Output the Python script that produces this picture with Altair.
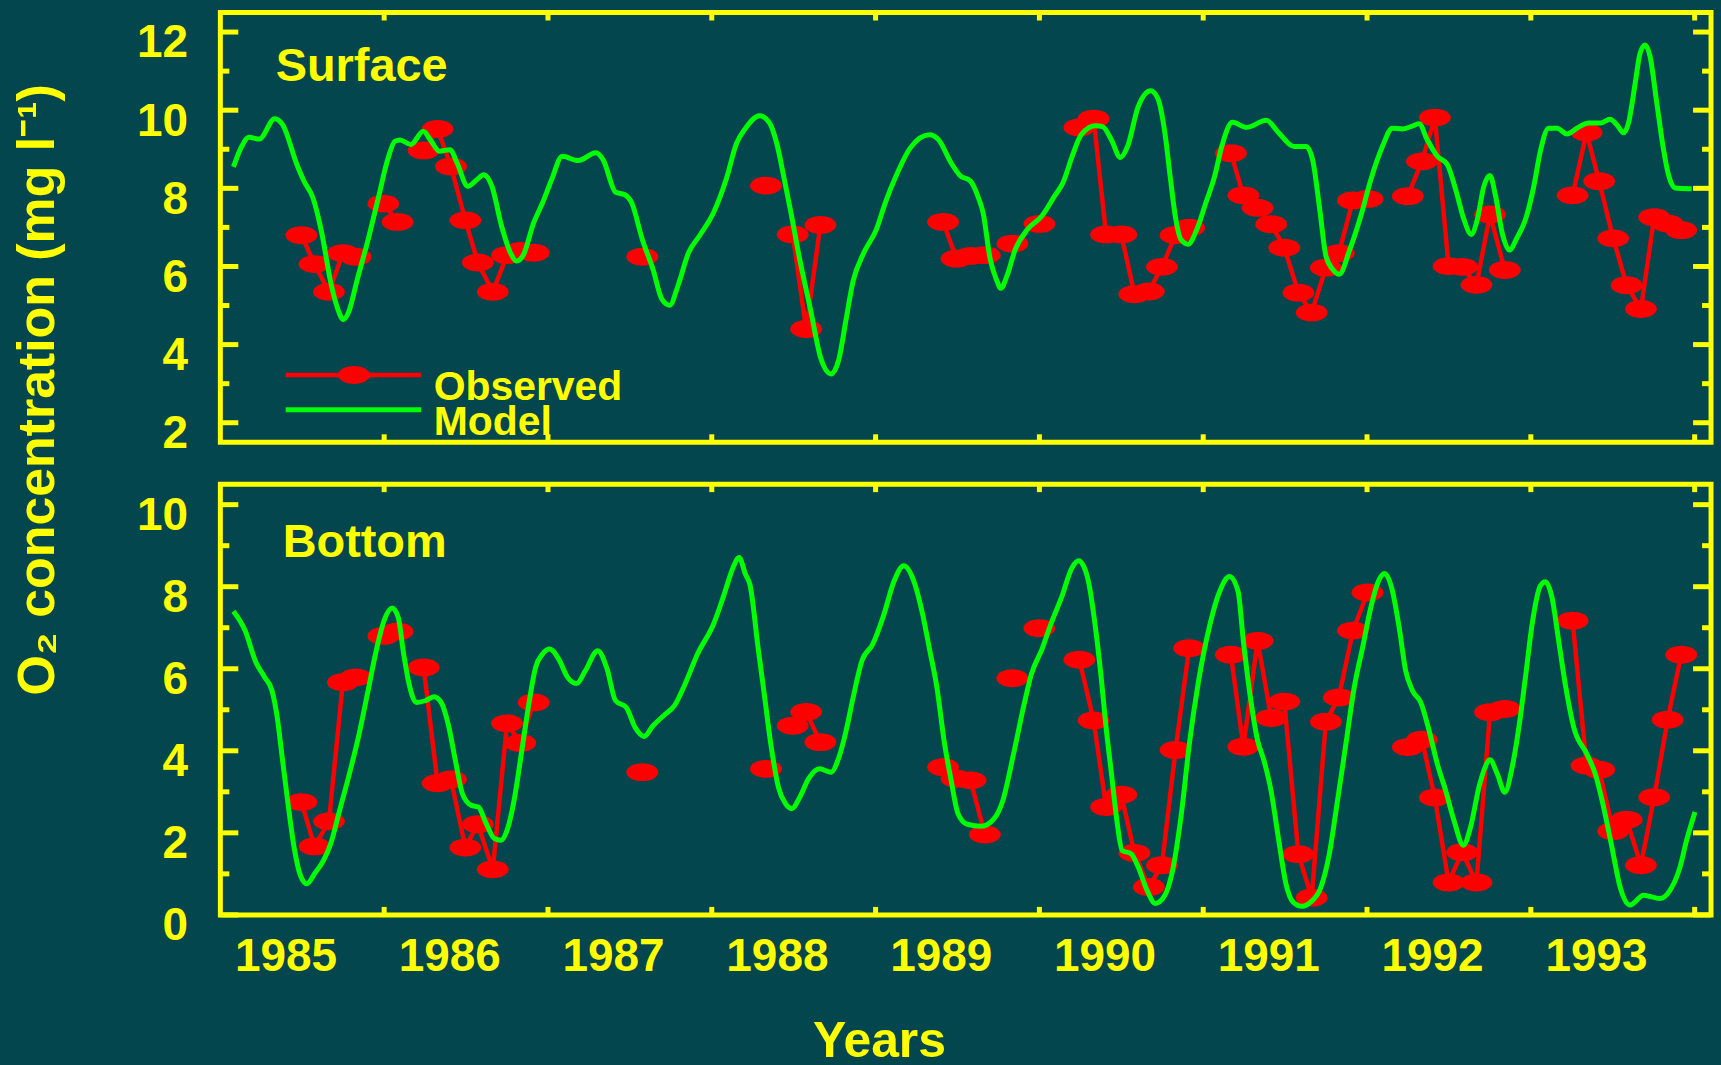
import altair as alt
import pandas as pd

YELLOW = "#ffff00"
RED = "#ff0000"
GREEN = "#00ff00"
BG = "#03464e"
FONT = "Liberation Sans"

X_DOMAIN = [1985.0, 1994.1]
YEAR_TICKS = [1986, 1987, 1988, 1989, 1990, 1991, 1992, 1993, 1994]

SURF_DOMAIN = [1.5, 12.5]
SURF_MAJOR = [2, 4, 6, 8, 10, 12]
SURF_MINOR = [3, 5, 7, 9, 11]
BOT_DOMAIN = [0, 10.5]
BOT_MAJOR = [0, 2, 4, 6, 8, 10]
BOT_MINOR = [1, 3, 5, 7, 9]

# Observed sampling dates (None = gap in the record)
obs_time = [1985.495, 1985.575, 1985.663, 1985.748, 1985.826, None,
            1985.995, 1986.082, None,
            1986.241, 1986.326, 1986.408, 1986.496, 1986.572, 1986.663, 1986.750, 1986.831, 1986.913, None,
            1987.576, None,
            1988.331, None,
            1988.494, 1988.576, 1988.663, None,
            1989.412, 1989.494, 1989.580, 1989.667, None,
            1989.835, None,
            1990.000, None,
            1990.244, 1990.331, 1990.407, 1990.500, 1990.580, 1990.668, 1990.748, 1990.831, 1990.914, None,
            1991.169, 1991.245, 1991.332, 1991.415, 1991.495, 1991.581, 1991.662, 1991.749, 1991.828, 1991.914, 1992.003, None,
            1992.249, 1992.335, 1992.414, 1992.498, 1992.581, 1992.668, 1992.751, 1992.841, None,
            1993.255, 1993.340, 1993.417, 1993.503, 1993.585, 1993.672, 1993.753, 1993.835, 1993.918]

obs_surface = [6.80, 6.06, 5.35, 6.34, 6.25, None,
               7.61, 7.14, None,
               8.97, 9.52, 8.56, 7.18, 6.10, 5.35, 6.29, 6.40, 6.35, None,
               6.25, None,
               8.07, None,
               6.82, 4.40, 7.06, None,
               7.14, 6.20, 6.27, 6.29, None,
               6.58, None,
               7.09, None,
               9.56, 9.78, 6.82, 6.82, 5.29, 5.36, 5.99, 6.80, 6.99, None,
               8.90, 7.82, 7.50, 7.08, 6.48, 5.33, 4.82, 5.97, 6.34, 7.69, 7.73, None,
               7.80, 8.69, 9.81, 6.01, 5.99, 5.53, 7.33, 5.91, None,
               7.82, 9.43, 8.18, 6.72, 5.52, 4.91, 7.26, 7.10, 6.93]

obs_bottom = [2.75, 1.67, 2.28, 5.67, 5.79, None,
              6.80, 6.91, None,
              6.03, 3.21, 3.30, 1.64, 2.21, 1.11, 4.67, 4.19, 5.18, None,
              3.48, None,
              3.56, None,
              4.61, 4.95, 4.21, None,
              3.60, 3.32, 3.28, 1.96, None,
              5.77, None,
              6.99, None,
              6.22, 4.74, 2.63, 2.93, 1.51, 0.68, 1.21, 4.02, 6.50, None,
              6.34, 4.10, 6.68, 4.80, 5.20, 1.48, 0.42, 4.71, 5.30, 6.93, 7.86, None,
              4.09, 4.27, 2.86, 0.79, 1.53, 0.79, 4.94, 5.02, None,
              7.17, 3.64, 3.54, 2.04, 2.32, 1.21, 2.87, 4.76, 6.34]

model_surface_time = [1985.080, 1985.130, 1985.173, 1985.238, 1985.332, 1985.380, 1985.467, 1985.511, 1985.565,
                      1985.619, 1985.674, 1985.717, 1985.750, 1985.782, 1985.836, 1985.902, 1985.967, 1986.021,
                      1986.065, 1986.097, 1986.163, 1986.239, 1986.282, 1986.337, 1986.402, 1986.445, 1986.511,
                      1986.565, 1986.608, 1986.658, 1986.717, 1986.771, 1986.808, 1986.847, 1986.913, 1986.967,
                      1987.022, 1987.087, 1987.185, 1987.293, 1987.337, 1987.413, 1987.467, 1987.511, 1987.576,
                      1987.641, 1987.696, 1987.744, 1987.793, 1987.858, 1987.924, 1988.011, 1988.087, 1988.152,
                      1988.206, 1988.292, 1988.353, 1988.396, 1988.439, 1988.483, 1988.537, 1988.602, 1988.667,
                      1988.728, 1988.776, 1988.820, 1988.863, 1988.928, 1989.005, 1989.059, 1989.124, 1989.211,
                      1989.328, 1989.385, 1989.461, 1989.515, 1989.580, 1989.624, 1989.656, 1989.700, 1989.737,
                      1989.765, 1989.802, 1989.853, 1989.928, 1990.015, 1990.092, 1990.146, 1990.200, 1990.255,
                      1990.342, 1990.385, 1990.440, 1990.494, 1990.538, 1990.603, 1990.679, 1990.722, 1990.766,
                      1990.798, 1990.831, 1990.864, 1990.907, 1990.961, 1991.016, 1991.070, 1991.113, 1991.178,
                      1991.265, 1991.385, 1991.461, 1991.557, 1991.628, 1991.668, 1991.709, 1991.749, 1991.790,
                      1991.831, 1991.892, 1991.962, 1992.023, 1992.094, 1992.155, 1992.216, 1992.267, 1992.318,
                      1992.368, 1992.429, 1992.490, 1992.541, 1992.592, 1992.636, 1992.673, 1992.713, 1992.750,
                      1992.785, 1992.825, 1992.870, 1992.916, 1992.967, 1993.018, 1993.058, 1993.109, 1993.160,
                      1993.221, 1993.282, 1993.353, 1993.424, 1993.484, 1993.525, 1993.566, 1993.596, 1993.637,
                      1993.667, 1993.698, 1993.728, 1993.769, 1993.810, 1993.840, 1993.880, 1993.982]
model_surface_value = [8.55, 9.07, 9.31, 9.26, 9.78, 9.63, 8.61, 8.18, 7.76,
                       6.86, 5.59, 4.91, 4.64, 4.82, 5.67, 6.69, 7.80, 8.73,
                       9.20, 9.24, 9.12, 9.46, 9.24, 8.95, 8.99, 8.65, 8.05,
                       8.22, 8.35, 8.05, 7.03, 6.35, 6.14, 6.27, 7.12, 7.63,
                       8.22, 8.82, 8.71, 8.91, 8.73, 7.90, 7.84, 7.63, 6.69,
                       5.93, 5.16, 5.01, 5.50, 6.35, 6.78, 7.38, 8.22, 9.16,
                       9.54, 9.86, 9.67, 9.16, 8.31, 7.38, 6.18, 4.91, 3.63,
                       3.25, 3.63, 4.65, 5.63, 6.35, 6.95, 7.63, 8.31, 9.03,
                       9.37, 9.24, 8.65, 8.33, 8.18, 7.80, 7.38, 6.18, 5.67,
                       5.44, 5.76, 6.44, 6.95, 7.29, 7.80, 8.16, 8.82, 9.37,
                       9.60, 9.58, 9.24, 8.79, 9.07, 10.09, 10.50, 10.31, 9.42,
                       8.31, 7.25, 6.69, 6.57, 6.95, 7.63, 8.31, 9.07, 9.69,
                       9.56, 9.74, 9.42, 9.07, 9.07, 8.73, 7.54, 6.27, 5.93,
                       5.80, 6.40, 7.29, 8.22, 9.07, 9.54, 9.52, 9.58, 9.65,
                       9.24, 8.82, 8.61, 7.97, 7.20, 6.82, 7.20, 8.05, 8.33,
                       7.80, 6.86, 6.42, 6.74, 7.20, 8.05, 8.95, 9.54, 9.54,
                       9.39, 9.54, 9.67, 9.67, 9.77, 9.63, 9.42, 9.67, 10.69,
                       11.46, 11.67, 11.37, 10.18, 8.99, 8.35, 8.01, 7.99]

model_bottom_time = [1985.080, 1985.151, 1985.217, 1985.271, 1985.315, 1985.347, 1985.380, 1985.413, 1985.450,
                     1985.489, 1985.528, 1985.576, 1985.630, 1985.674, 1985.728, 1985.793, 1985.847, 1985.902,
                     1985.956, 1985.999, 1986.049, 1986.086, 1986.119, 1986.152, 1986.196, 1986.250, 1986.304,
                     1986.348, 1986.391, 1986.435, 1986.478, 1986.532, 1986.576, 1986.619, 1986.673, 1986.713,
                     1986.750, 1986.793, 1986.837, 1986.880, 1986.924, 1986.967, 1987.011, 1987.065, 1987.120,
                     1987.174, 1987.228, 1987.304, 1987.358, 1987.413, 1987.478, 1987.532, 1987.587, 1987.641,
                     1987.707, 1987.772, 1987.837, 1987.913, 1988.011, 1988.076, 1988.130, 1988.167, 1988.206,
                     1988.233, 1988.283, 1988.320, 1988.363, 1988.407, 1988.450, 1988.489, 1988.537, 1988.591,
                     1988.657, 1988.728, 1988.776, 1988.820, 1988.863, 1988.917, 1988.983, 1989.048, 1989.113,
                     1989.172, 1989.233, 1989.287, 1989.331, 1989.374, 1989.418, 1989.461, 1989.504, 1989.559,
                     1989.646, 1989.722, 1989.777, 1989.842, 1989.907, 1989.951, 1990.016, 1990.070, 1990.135,
                     1990.200, 1990.240, 1990.294, 1990.342, 1990.375, 1990.407, 1990.440, 1990.473, 1990.505,
                     1990.560, 1990.603, 1990.657, 1990.707, 1990.766, 1990.809, 1990.864, 1990.918, 1990.972,
                     1991.037, 1991.102, 1991.160, 1991.212, 1991.245, 1991.288, 1991.332, 1991.371, 1991.414,
                     1991.458, 1991.505, 1991.547, 1991.601, 1991.658, 1991.719, 1991.770, 1991.820, 1991.871,
                     1991.922, 1991.973, 1992.023, 1992.070, 1992.108, 1992.155, 1992.196, 1992.236, 1992.277,
                     1992.328, 1992.379, 1992.429, 1992.480, 1992.531, 1992.588, 1992.632, 1992.683, 1992.717,
                     1992.750, 1992.795, 1992.841, 1992.886, 1992.927, 1992.967, 1993.008, 1993.058, 1993.089,
                     1993.129, 1993.170, 1993.210, 1993.262, 1993.342, 1993.393, 1993.444, 1993.495, 1993.545,
                     1993.606, 1993.688, 1993.789, 1993.850, 1993.911, 1993.951, 1994.002]
model_bottom_value = [7.40, 6.93, 6.16, 5.79, 5.47, 4.82, 3.76, 2.71, 1.65,
                      0.96, 0.76, 1.01, 1.33, 1.74, 2.55, 3.52, 4.41, 5.47,
                      6.52, 7.17, 7.48, 7.25, 6.36, 5.63, 5.18, 5.22, 5.32,
                      5.18, 4.65, 3.76, 2.95, 2.67, 2.63, 2.26, 1.86, 1.82,
                      2.06, 2.79, 3.92, 5.06, 6.03, 6.36, 6.48, 6.24, 5.79,
                      5.64, 5.95, 6.44, 6.03, 5.22, 5.06, 4.57, 4.35, 4.61,
                      4.86, 5.10, 5.63, 6.36, 7.09, 7.82, 8.47, 8.71, 8.30,
                      8.05, 6.50, 5.39, 4.09, 3.11, 2.71, 2.59, 2.87, 3.32,
                      3.56, 3.48, 3.84, 4.49, 5.30, 6.20, 6.60, 7.29, 8.14,
                      8.51, 8.14, 7.33, 6.44, 5.55, 4.25, 3.28, 2.46, 2.21,
                      2.16, 2.34, 2.79, 3.92, 5.14, 5.87, 6.48, 7.09, 7.74,
                      8.47, 8.63, 8.22, 7.01, 5.87, 4.57, 3.44, 2.30, 1.57,
                      1.49, 1.17, 0.60, 0.28, 0.48, 1.01, 2.38, 4.25, 5.71,
                      7.01, 7.90, 8.25, 7.90, 6.68, 5.30, 4.25, 3.76, 3.03,
                      1.90, 0.76, 0.32, 0.21, 0.32, 0.68, 1.49, 2.79, 4.17,
                      5.55, 6.52, 7.49, 8.14, 8.32, 7.90, 7.01, 5.95, 5.47,
                      5.18, 4.49, 3.68, 3.03, 2.30, 1.70, 2.14, 3.11, 3.56,
                      3.78, 3.44, 2.99, 3.60, 4.57, 5.79, 7.09, 8.02, 8.12,
                      7.74, 6.68, 5.63, 4.57, 3.92, 3.44, 2.63, 1.65, 0.68,
                      0.24, 0.48, 0.40, 0.60, 1.17, 1.82, 2.51]

ELLIPSE = "M-1,0 A1,0.56 0 1,1 1,0 A1,0.56 0 1,1 -1,0 Z"
W = 1495


def observed_frame(values):
    rows, seg = [], 0
    for t, v in zip(obs_time, values):
        if t is None:
            seg += 1
            continue
        rows.append({"t": t, "v": v, "seg": seg})
    return pd.DataFrame(rows)


def deco_text(text, x, y, size):
    return alt.Chart(alt.Data(values=[{}])).mark_text(
        text=text, font=FONT, fontSize=size, fontWeight="bold", color=YELLOW,
        align="left", baseline="alphabetic"
    ).encode(x=alt.value(x), y=alt.value(y))


LABEL_STYLE = dict(labelFont=FONT, labelFontWeight="bold", labelColor=YELLOW,
                   labelFlush=False, labelOverlap=False, labelBound=False,
                   ticks=False, domain=False, grid=False)


def panel(model_t, model_v, obs_vals, ydom, major, minor, height, name, name_xy,
          is_bottom=False, with_legend=False):
    xs = alt.Scale(domain=X_DOMAIN, nice=False, zero=False)
    ys = alt.Scale(domain=ydom, nice=False, zero=False)

    ylab = dict(values=major, labelOffset=11, labelPadding=33, labelFontSize=46,
                labelAlign="right", labelBaseline="middle", **LABEL_STYLE)
    if is_bottom:
        xaxis = alt.Axis(values=YEAR_TICKS, labelExpr="'' + (datum.value - 1)", labelOffset=-99,
                         labelPadding=20, labelFontSize=46, labelBaseline="top",
                         title="Years", titleFont=FONT, titleFontSize=50, titleFontWeight="bold",
                         titleColor=YELLOW, titleX=660.5, titleY=142, titleAlign="center",
                         titleBaseline="alphabetic", **LABEL_STYLE)
        yaxis = alt.Axis(title=None, **ylab)
    else:
        xaxis = alt.Axis(values=YEAR_TICKS, labels=False, ticks=False, domain=False, grid=False, title=None)
        yaxis = alt.Axis(title="O\u2082 concentration (mg l\u207b\u00b9)", titleFont=FONT, titleFontSize=52,
                         titleFontWeight="bold", titleColor=YELLOW, titleAngle=270, titleX=-167,
                         titleY=378, titleAlign="center", titleBaseline="alphabetic", **ylab)

    def X():
        return alt.X("t:Q", scale=xs, axis=xaxis)

    def Y():
        return alt.Y("v:Q", scale=ys, axis=yaxis)

    model_df = pd.DataFrame({"t": model_t, "v": model_v})
    obs_df = observed_frame(obs_vals)

    obs_line = alt.Chart(obs_df).mark_line(color=RED, strokeWidth=4.5).encode(
        x=X(), y=Y(), detail="seg:N")
    obs_pts = alt.Chart(obs_df).mark_point(shape=ELLIPSE, size=1024, filled=True, color=RED, opacity=1).encode(
        x=X(), y=Y())
    model = alt.Chart(model_df).mark_line(color=GREEN, strokeWidth=5, interpolate="monotone").encode(
        x=X(), y=Y())

    xt = pd.DataFrame({"t": YEAR_TICKS})
    tick_top = alt.Chart(xt).mark_rule(color=YELLOW, strokeWidth=5).encode(
        x=X(), y=alt.value(0), y2=alt.value(8))
    tick_bot = alt.Chart(xt).mark_rule(color=YELLOW, strokeWidth=5).encode(
        x=X(), y=alt.value(height), y2=alt.value(height - 8))
    layers = [obs_line, obs_pts, model, tick_top, tick_bot]
    for vals, ln in ((major, 18), (minor, 9)):
        d = pd.DataFrame({"v": vals})
        layers.append(alt.Chart(d).mark_rule(color=YELLOW, strokeWidth=5).encode(
            y=Y(), x=alt.value(0), x2=alt.value(ln)))
        layers.append(alt.Chart(d).mark_rule(color=YELLOW, strokeWidth=5).encode(
            y=Y(), x=alt.value(W), x2=alt.value(W - ln)))

    layers.append(deco_text(name, name_xy[0], name_xy[1], 47))

    if with_legend:
        one = alt.Data(values=[{}])
        layers.append(alt.Chart(one).mark_rule(color=RED, strokeWidth=4.5).encode(
            x=alt.value(65.5), x2=alt.value(201.5), y=alt.value(363.5)))
        layers.append(alt.Chart(one).mark_point(shape=ELLIPSE, size=1024, filled=True, color=RED, opacity=1)
                      .encode(x=alt.value(134), y=alt.value(363.5)))
        layers.append(alt.Chart(one).mark_rule(color=GREEN, strokeWidth=5).encode(
            x=alt.value(65.5), x2=alt.value(201.5), y=alt.value(398.5)))
        layers.append(deco_text("Observed", 214, 389, 41))
        layers.append(deco_text("Model", 214, 424, 41))

    return alt.layer(*layers).properties(width=W, height=height)


top = panel(model_surface_time, model_surface_value, obs_surface, SURF_DOMAIN, SURF_MAJOR, SURF_MINOR,
            431, "Surface", (55.5, 69), with_legend=True)
bottom = panel(model_bottom_time, model_bottom_value, obs_bottom, BOT_DOMAIN, BOT_MAJOR, BOT_MINOR,
               432, "Bottom", (62.5, 73), is_bottom=True)

chart = alt.vconcat(top, bottom, spacing=42, bounds="flush").properties(
    background=BG,
    padding={"left": 9, "top": 6, "right": 5, "bottom": 0},
).configure_view(stroke=YELLOW, strokeWidth=5)

chart.save("out.html", embed_options={"renderer": "svg", "actions": False})
